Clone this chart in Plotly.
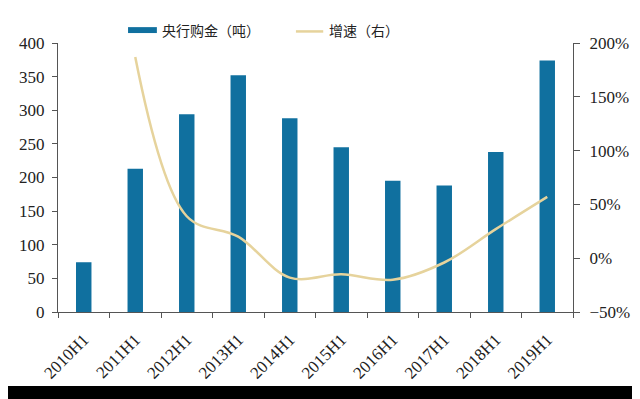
import plotly.graph_objects as go

categories = ["2010H1", "2011H1", "2012H1", "2013H1", "2014H1",
              "2015H1", "2016H1", "2017H1", "2018H1", "2019H1"]
purchases = [74, 213, 294, 352, 288, 245, 195, 188, 238, 374]
growth = [None, 187, 39, 20, -18, -15, -20, -4, 27, 57]

bar_name = "央行购金（吨）"
line_name = "增速（右）"

BAR_COLOR = "#10709F"
LINE_COLOR = "#E6D39C"
AXIS_COLOR = "#555555"
TICK_FONT = dict(family="Liberation Serif", size=17, color="#222222")
LEG_FONT = dict(family="Noto Sans CJK SC", size=14, color="#222222")

fig = go.Figure()
fig.add_trace(go.Bar(
    x=categories, y=purchases, name=bar_name,
    marker=dict(color=BAR_COLOR, line=dict(width=0)),
    width=0.3, yaxis="y",
))
fig.add_trace(go.Scatter(
    x=categories, y=growth, name=line_name, yaxis="y2",
    mode="lines", line=dict(color=LINE_COLOR, width=2.5, shape="spline", smoothing=1.0),
    connectgaps=False,
))

fig.update_layout(
    width=640, height=399,
    margin=dict(l=50, r=75, t=35, b=95),
    paper_bgcolor="white", plot_bgcolor="white",
    showlegend=False,
    xaxis=dict(
        type="category", tickangle=-45, tickfont=TICK_FONT,
        showline=True, linecolor=AXIS_COLOR, linewidth=1,
        ticks="outside", ticklen=5, tickcolor=AXIS_COLOR, tickson="boundaries",
        ticklabelstandoff=10,
        showgrid=False, zeroline=False,
    ),
    yaxis=dict(
        range=[0, 400], dtick=50, tickfont=TICK_FONT,
        showline=True, linecolor=AXIS_COLOR, linewidth=1,
        ticks="outside", ticklen=5, tickcolor=AXIS_COLOR,
        ticklabelstandoff=4,
        showgrid=False, zeroline=False,
    ),
    yaxis2=dict(
        range=[-50, 200], dtick=50, ticksuffix="%", tickfont=TICK_FONT,
        overlaying="y", side="right",
        showline=True, linecolor=AXIS_COLOR, linewidth=1,
        ticks="outside", ticklen=6, tickcolor=AXIS_COLOR,
        ticklabelstandoff=6,
        showgrid=False, zeroline=False,
    ),
    shapes=[
        # legend swatches
        dict(type="rect", xref="paper", yref="paper", x0=0.136, x1=0.192,
             y0=1.037, y1=1.059, fillcolor=BAR_COLOR, line=dict(width=0)),
        dict(type="line", xref="paper", yref="paper", x0=0.462, x1=0.515,
             y0=1.043, y1=1.043, line=dict(color=LINE_COLOR, width=2.5)),
        # bottom frame band
        dict(type="rect", xref="paper", yref="paper", x0=-0.2, x1=1.2,
             y0=-0.275, y1=-0.36, fillcolor="black", line=dict(width=0), layer="above"),
    ],
    annotations=[
        dict(text=bar_name, xref="paper", yref="paper", x=0.198, y=1.048,
             xanchor="left", yanchor="middle", showarrow=False, font=LEG_FONT),
        dict(text=line_name, xref="paper", yref="paper", x=0.522, y=1.048,
             xanchor="left", yanchor="middle", showarrow=False, font=LEG_FONT),
    ],
)

fig.write_html("out.html")
